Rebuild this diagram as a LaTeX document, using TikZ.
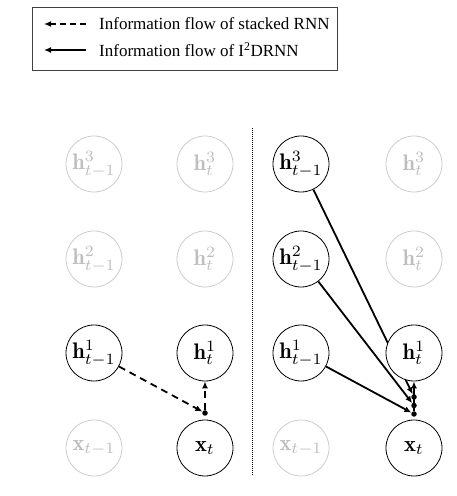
\documentclass[tikz,border=0pt]{standalone}
\usepackage{graphicx}
\usepackage{fontspec}
\newfontfamily\legendfont{Liberation Serif}
\usetikzlibrary{arrows.meta,backgrounds}
\definecolor{lightgr}{RGB}{205,205,205}
\definecolor{lighttx}{RGB}{190,190,190}
\newcommand{\nodemath}[1]{\scalebox{2.25}{$#1$}}
\tikzset{
  x=1pt,y=1pt,
  unit/.style={circle,draw=black,line width=0.8pt,fill=white,minimum size=56pt,inner sep=0pt},
  faded/.style={unit,draw=lightgr,text=lighttx},
  flow/.style={line width=1.8pt,-{Latex[length=7pt,width=6pt]}},
  sflow/.style={flow,dash pattern=on 7pt off 5pt},
  jdot/.style={circle,fill=black,minimum size=5.5pt,inner sep=0pt},
  legtext/.style={anchor=west,font=\legendfont\fontsize{17}{20}\selectfont,inner sep=0pt}
}
\begin{document}
\begin{tikzpicture}
\useasboundingbox (0,0) rectangle (456,496);
% legend
\node[draw=black!75,line width=0.8pt,minimum width=305pt,minimum height=63pt,inner sep=0pt] (leg) at (184.5,457.5) {};
\coordinate (la1) at (86,472); \coordinate (lb1) at (44,472);
\coordinate (la2) at (86,446); \coordinate (lb2) at (44,446);
\draw[flow,dash pattern=on 6pt off 4pt] (la1) -- (lb1);
\draw[flow] (la2) -- (lb2);
\node[legtext] (lt1) at (99,472) {Information flow of stacked RNN};
\node[legtext] (lt2) at (99,446) {Information flow of I\textsuperscript{2}DRNN};
% separator
\coordinate (s1) at (252,368); \coordinate (s2) at (252,21);
\draw[line width=0.8pt,dash pattern=on 1pt off 1pt] (s1) -- (s2);
% left panel
\node[faded] (L3a) at (94,332) {\nodemath{\mathbf{h}^3_{t-1}}};
\node[faded] (L3b) at (205,332) {\nodemath{\mathbf{h}^3_{t}}};
\node[faded] (L2a) at (94,237) {\nodemath{\mathbf{h}^2_{t-1}}};
\node[faded] (L2b) at (205,237) {\nodemath{\mathbf{h}^2_{t}}};
\node[unit] (L1a) at (94,143) {\nodemath{\mathbf{h}^1_{t-1}}};
\node[unit] (L1b) at (205,143) {\nodemath{\mathbf{h}^1_{t}}};
\node[faded] (Lxa) at (94,48) {\nodemath{\mathbf{x}_{t-1}}};
\node[unit] (Lxb) at (205,48) {\nodemath{\mathbf{x}_{t}}};
\node[jdot] (Ld) at (205,83) {};
\draw[sflow] (L1a) -- (Ld);
\draw[sflow] (Ld) -- (L1b);
% right panel
\node[jdot] (Rd1) at (414,82) {};
\node[jdot] (Rd2) at (414,90.5) {};
\node[jdot] (Rd3) at (414,99) {};
\node[unit] (R3a) at (301,332) {\nodemath{\mathbf{h}^3_{t-1}}};
\node[faded] (R3b) at (414,332) {\nodemath{\mathbf{h}^3_{t}}};
\node[unit] (R2a) at (301,237) {\nodemath{\mathbf{h}^2_{t-1}}};
\node[faded] (R2b) at (414,237) {\nodemath{\mathbf{h}^2_{t}}};
\node[unit] (R1a) at (301,143) {\nodemath{\mathbf{h}^1_{t-1}}};
\node[unit] (R1b) at (414,143) {\nodemath{\mathbf{h}^1_{t}}};
\node[faded] (Rxa) at (301,48) {\nodemath{\mathbf{x}_{t-1}}};
\node[unit] (Rxb) at (414,48) {\nodemath{\mathbf{x}_{t}}};
\begin{pgfonlayer}{background}
\draw[flow] (R3a) -- (Rd3);
\draw[flow] (R2a) -- (Rd2);
\draw[flow] (R1a) -- (Rd1);
\draw[flow] (Rd1) -- (R1b);
\end{pgfonlayer}
\end{tikzpicture}
\end{document}
